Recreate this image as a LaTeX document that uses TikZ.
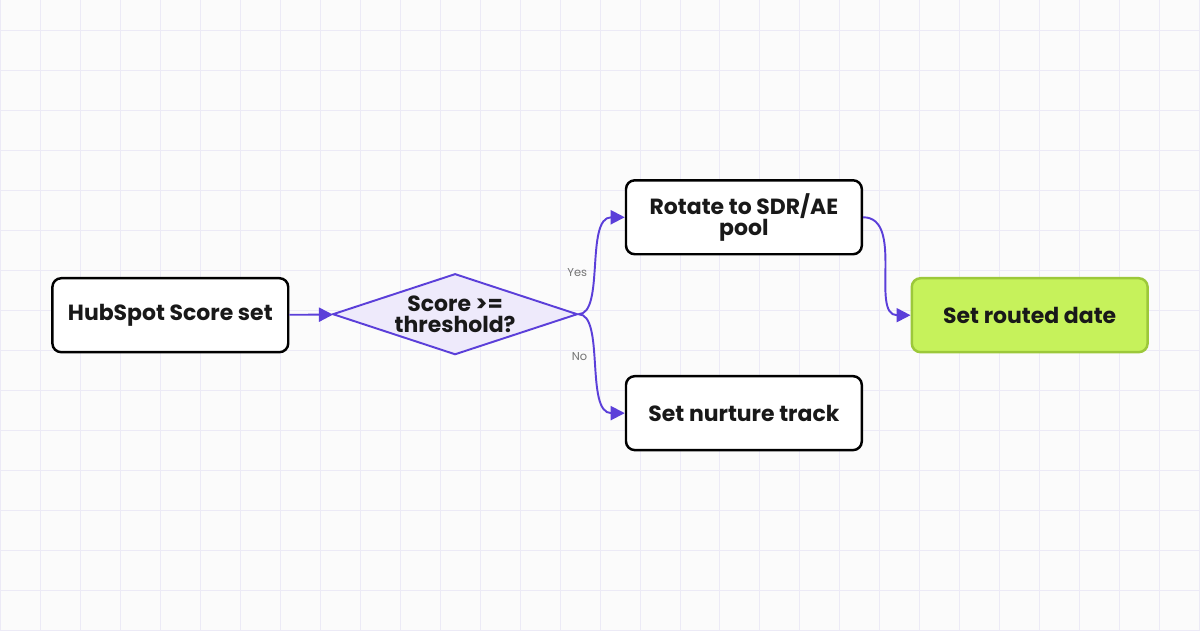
\documentclass[tikz,border=0pt]{standalone}
\usepackage{fontspec}
\setmainfont{Poppins}
\usetikzlibrary{shapes.geometric,arrows.meta}
\definecolor{flowedge}{HTML}{5B3FD9}
\definecolor{gridline}{HTML}{ECEAF6}
\definecolor{decisionfill}{HTML}{EEEAFB}
\definecolor{donefill}{HTML}{C6F25B}
\definecolor{doneline}{HTML}{9CC83A}
\tikzset{
  step box/.style={draw=black, line width=1.4pt, rounded corners=5pt, fill=white,
    minimum width=4.72cm, minimum height=1.48cm, align=center,
    font=\fontsize{12.5}{12}\selectfont\bfseries, text=black!90},
  done box/.style={step box, draw=doneline, fill=donefill},
  decision/.style={diamond, draw=flowedge, line width=1.1pt, fill=decisionfill,
    minimum width=4.9cm, minimum height=1.62cm, aspect=3, inner sep=0pt, align=center,
    font=\fontsize{12.5}{12}\selectfont\bfseries, text=black!90},
  flow/.style={draw=flowedge, line width=1.1pt, -{Triangle[length=8pt,width=8pt]}},
  choice/.style={font=\fontsize{6.5}{7}\selectfont, text=black!55}
}
\begin{document}
\begin{tikzpicture}
\fill[gray!3] (0,0) rectangle (24,12.6);
\draw[gridline, line width=0.5pt] (0,0) grid[step=0.8] (24,12.6);
\useasboundingbox (0,0) rectangle (24,12.6);

\node[step box] (score) at (3.4,6.3) {HubSpot Score set};
\node[decision] (check) at (9.1,6.32) {Score >=\\threshold?};
\node[step box] (rotate) at (14.88,8.26) {Rotate to SDR/AE\\pool};
\node[step box] (nurture) at (14.88,4.34) {Set nurture track};
\node[done box] (routed) at (20.6,6.3) {Set routed date};

\draw[flow] (score) -- (check);
\draw[flow] (check.east) .. controls (12.1,6.32) and (11.7,8.26) .. node[choice, pos=0.45, left=1pt] {Yes} (rotate.west);
\draw[flow] (check.east) .. controls (12.1,6.32) and (11.7,4.34) .. node[choice, pos=0.45, left=1pt] {No} (nurture.west);
\draw[flow] (rotate.east) .. controls (18.1,8.26) and (17.4,6.3) .. (routed.west);
\end{tikzpicture}
\end{document}
